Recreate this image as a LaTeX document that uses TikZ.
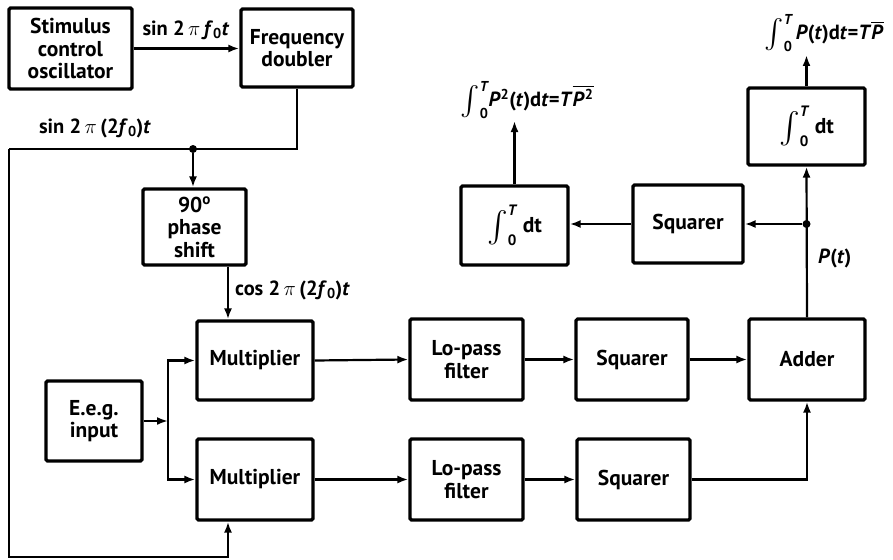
\documentclass[tikz,border=0pt]{standalone}
\usepackage{amsmath}
\usepackage{graphicx}
\usepackage{fontspec}
\setmainfont{PT Sans}
\usetikzlibrary{arrows.meta}
\newcommand{\bigint}[1][1.5]{$\mathop{\vcenter{\hbox{\scalebox{#1}{$\int$}}}}\nolimits_{\text{\bfseries 0}}^{\text{\bfseries\itshape T}}$}
\begin{document}
\begin{tikzpicture}[x=1pt,y=-1pt,
 blk/.style={draw, line width=3.2pt, rounded corners=1.5pt, inner sep=0pt, font=\bfseries\fontsize{21.5}{22.5}\selectfont, align=center},
 conn/.style={line width=2.2pt},
 arr/.style={conn, -{Latex[length=11pt,width=8pt]}},
 lbl/.style={font=\bfseries\fontsize{20.5}{23}\selectfont, inner sep=0pt},
 dot/.style={circle, fill, inner sep=0pt, minimum size=8pt}]
\useasboundingbox (0,0) rectangle (893,559);
% boxes
\node[blk, minimum width=123pt, minimum height=81pt] (osc) at (70.5,48.5) {Stimulus\\control\\oscillator};
\node[blk, minimum width=112pt, minimum height=78pt] (dbl) at (297,48) {Frequency\\doubler};
\node[blk, minimum width=103pt, minimum height=76pt] (phase) at (194.5,227) {90\textsuperscript{o}\\phase\\shift};
\node[blk, minimum width=116pt, minimum height=79pt] (mult1) at (255,360.5) {Multiplier};
\node[blk, minimum width=116pt, minimum height=81pt] (mult2) at (255,479.5) {Multiplier};
\node[blk, minimum width=96pt, minimum height=80pt] (eeg) at (94,421) {E.e.g.\\input};
\node[blk, minimum width=113pt, minimum height=81pt] (lp1) at (466.5,359.5) {Lo-pass\\filter};
\node[blk, minimum width=113pt, minimum height=81pt] (lp2) at (466.5,479.5) {Lo-pass\\filter};
\node[blk, minimum width=112pt, minimum height=81pt] (sq1) at (632,359.5) {Squarer};
\node[blk, minimum width=113pt, minimum height=81pt] (sq2) at (633.5,479.5) {Squarer};
\node[blk, minimum width=116pt, minimum height=81pt] (adder) at (807,359.5) {Adder};
\node[blk, minimum width=117pt, minimum height=77pt] (intR) at (806.5,126.5) {\bigint\;dt};
\node[blk, minimum width=110pt, minimum height=78pt] (sqT) at (688,224) {Squarer};
\node[blk, minimum width=107pt, minimum height=79pt] (intL) at (514.5,225.5) {\bigint\;dt};
% coordinates
\coordinate (j1) at (193,149);
\coordinate (lc) at (9,149);
\coordinate (bl) at (9,557);
\coordinate (cx) at (228,0);
\coordinate (jb) at (168,421);
\coordinate (outL) at (514.5,121);
\coordinate (outR) at (806.5,55);
\node[dot] (d1) at (j1) {};
\node[dot] (d2) at (806.5,224) {};
% connectors
\draw[arr] (osc.east) -- (osc.east -| dbl.west);
\draw[conn] (dbl.south) |- (lc);
\draw[arr] (lc) -- (bl) -| (mult2.south -| cx);
\draw[arr] (d1) -- (d1 |- phase.north);
\draw[arr] (phase.south -| cx) -- (mult1.north -| cx);
\draw[arr] (eeg.east) -- (jb);
\draw[arr] (jb) |- (mult1.west);
\draw[arr] (jb) |- (mult2.west);
\draw[arr] (mult1.east) -- (lp1.west);
\draw[arr] (lp1.east) -- (sq1.west);
\draw[arr] (sq1.east) -- (adder.west);
\draw[arr] (mult2.east) -- (lp2.west);
\draw[arr] (lp2.east) -- (sq2.west);
\draw[arr] (sq2.east) -| (adder.south);
\draw[arr] (adder.north) -- (intR.south);
\draw[arr] (d2) -- (sqT.east);
\draw[arr] (sqT.west) -- (sqT.west -| intL.east);
\draw[arr] (intL.north) -- (outL);
\draw[arr] (intR.north) -- (outR);
% labels
\node[lbl] (l1) at (186,30) {sin 2\,$\pi$\,\textit{f}\textsubscript{0}\textit{t}};
\node[lbl] (l2) at (95,128) {sin 2\,$\pi$\,(2\textit{f}\textsubscript{0})\textit{t}};
\node[lbl, anchor=west] (l3) at (235,290) {cos 2\,$\pi$\,(2\textit{f}\textsubscript{0})\textit{t}};
\node[lbl] (l4) at (527,100) {\bigint[1.4]\textit{P}\textsuperscript{2}(\textit{t})d\textit{t}=\textit{T}$\overline{\mbox{\textit{P}\textsuperscript{2}}}$};
\node[lbl] (l5) at (824,33) {\bigint[1.4]\,\textit{P}(\textit{t})d\textit{t}=\textit{T}$\overline{\mbox{\textit{P}}}$};
\node[lbl, anchor=west] (l6) at (818,258) {\textit{P}(\textit{t})};
\end{tikzpicture}
\end{document}
